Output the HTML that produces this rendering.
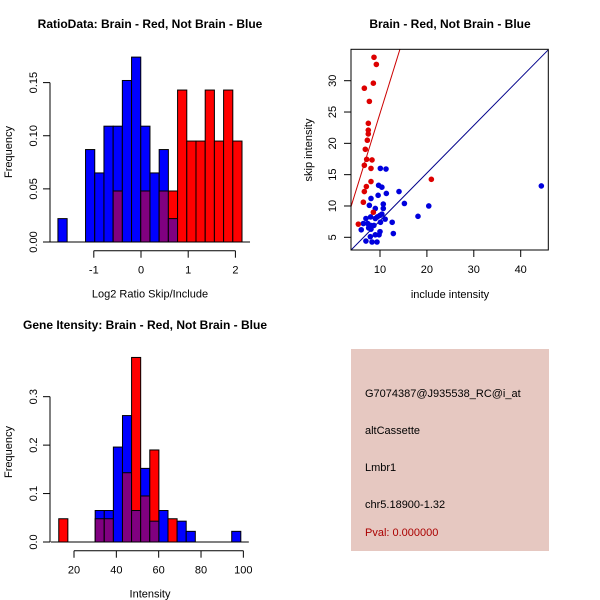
<!DOCTYPE html>
<html><head><meta charset="utf-8"><style>
body{margin:0;background:#fff;}
svg{display:block;font-family:"Liberation Sans",sans-serif;}
</style></head><body>
<svg id="c" width="600" height="600" viewBox="0 0 600 600"></svg>
<script>
// ---- Ratio histogram data ----
const ratioStart = -1.76, ratioStep = 0.195;
const ratioBlue = [0.022,0,0,0.087,0.065,0.109,0.109,0.152,0.174,0.109,0.065,0.087,0.022,0,0,0,0,0,0,0];
const ratioRed  = [0,0,0,0,0,0,0.048,0,0,0.048,0,0.048,0.048,0.143,0.095,0.095,0.143,0.095,0.143,0.095];
const ratioXTicks = [-1,0,1,2];
const ratioYTicks = ["0.00","0.05","0.10","0.15"];
// ---- Scatter data ----
const redX = [8.72,9.22,8.58,6.66,7.73,7.51,7.5,7.5,7.3,6.87,7.16,8.3,6.66,8.08,7.09,8.08,6.66,6.45,8.58,5.38,20.95];
const redY = [33.74,32.6,29.6,28.8,26.7,23.2,22.1,21.5,20.5,19.05,17.45,17.35,16.5,16.0,13.1,13.9,12.3,10.6,9.0,7.1,14.26];
const blueX = [44.4,10.07,11.28,9.7,10.4,9.6,11.35,14.05,8.08,7.73,10.7,15.2,20.4,9.0,10.7,18.1,10.4,10.0,9.43,9.0,8.0,7.0,11.1,10.1,12.6,6.45,7.37,8.0,8.7,7.58,8.08,6.0,10.0,12.84,9.0,9.8,7.94,7.0,8.3,9.36];
const blueY = [13.2,16.0,15.9,13.3,13.0,11.7,12.0,12.3,11.2,10.1,10.3,10.4,10.0,9.6,9.6,8.35,8.7,8.5,8.25,8.0,8.25,8.0,7.9,7.4,7.4,7.2,7.2,6.9,6.9,6.5,6.3,6.2,5.9,5.6,5.4,5.4,5.1,4.4,4.25,4.25];
const scatXTicks = [10,20,30,40];
const scatYTicks = [5,10,15,20,25,30];
const redLine = [0.68, 2.41];  // intercept, slope
const blueLine = [0.06, 0.76];
// ---- Intensity histogram data ----
const intStart = 12.8, intStep = 4.3;
const intBlue = [0,0,0,0,0.065,0.065,0.196,0.261,0.065,0.152,0.043,0.065,0,0.043,0.022,0,0,0,0,0.022];
const intRed  = [0.048,0,0,0,0.048,0.048,0,0.143,0.381,0.095,0.19,0,0.048,0,0,0,0,0,0,0];
const intXTicks = [20,40,60,80,100];
const intYTicks = ["0.0","0.1","0.2","0.3"];

const NS="http://www.w3.org/2000/svg";
const svg=document.getElementById('c');
function mk(tag,attrs,parent,text){const e=document.createElementNS(NS,tag);for(const k in attrs)e.setAttribute(k,attrs[k]);if(text!==undefined)e.textContent=text;(parent||svg).appendChild(e);return e;}

function hist(start,step,blue,red,xs,ys,yticks,xticks,title,titleX,titleY,xlabel,name){
  const g=mk('g',{});
  
  
  for(let k=0;k<blue.length;k++){
    const b=blue[k],r=red[k];
    const x0=xs(start+k*step),x1=xs(start+(k+1)*step);
    const drawBar=(v,col,nm)=>{if(v<=0)return;const el=mk('rect',{x:x0,y:ys(v),width:x1-x0,height:ys(0)-ys(v),fill:col,stroke:'#000','stroke-width':1},g);
      
      };
    if(b>=r){drawBar(b,'#0000ff','bar-blue');drawBar(r,'#800080','bar-overlap');}
    else{drawBar(r,'#ff0000','bar-red');drawBar(b,'#800080','bar-overlap');}
  }
  const yv=yticks.map(Number);
  const ya=mk('g',{},g);
  
  
  mk('line',{x1:50,x2:50,y1:ys(yv[0]),y2:ys(yv[yv.length-1]),stroke:'#000'},ya);
  yticks.forEach((t,i)=>{const y=ys(yv[i]);mk('line',{x1:43,x2:50,y1:y,y2:y,stroke:'#000'},ya);
    mk('text',{x:37,y:y,'font-size':11,'text-anchor':'middle',transform:`rotate(-90 37 ${y})`},ya,t);});
  const xa=mk('g',{},g);
  
  
  const ay=ys(0)+8.7;
  mk('line',{x1:xs(xticks[0]),x2:xs(xticks[xticks.length-1]),y1:ay,y2:ay,stroke:'#000'},xa);
  xticks.forEach(t=>{const x=xs(t);mk('line',{x1:x,x2:x,y1:ay,y2:ay+7,stroke:'#000'},xa);
    mk('text',{x:x,y:ay+23,'font-size':11,'text-anchor':'middle'},xa,String(t));});
  mk('line',{x1:xs(start)-8,x2:xs(start+blue.length*step)+8,y1:ys(0),y2:ys(0),stroke:'#000'},g);
  const t=mk('text',{x:titleX,y:titleY,'font-size':12,'font-weight':'bold','text-anchor':'middle'},g,title);
  
  
  const xl=mk('text',{x:150,y:ay+47,'font-size':11,'text-anchor':'middle'},g,xlabel);
  
  
  const yy=ys(0)-90;
  const yl=mk('text',{x:12,y:yy,'font-size':11,'text-anchor':'middle',transform:`rotate(-90 12 ${yy})`},g,'Frequency');
  
  
}
hist(ratioStart,ratioStep,ratioBlue,ratioRed,v=>141+v*47.2,v=>242-v*1062.6,ratioYTicks,ratioXTicks,
  'RatioData: Brain - Red, Not Brain - Blue',150,28,'Log2 Ratio Skip/Include','ratio-histogram');
hist(intStart,intStep,intBlue,intRed,v=>74+(v-20)*2.117,v=>542-v*484.4,intYTicks,intXTicks,
  'Gene Itensity: Brain - Red, Not Brain - Blue',145,329,'Intensity','intensity-histogram');

(function(){
  const g=mk('g',{});
  
  
  const L=351,R=548.3,T=49.3,B=250;
  const xs=v=>380+(v-10)*4.69, ys=v=>237.3-(v-5)*6.264;
  const x0=(L-380)/4.69+10,x1=(R-380)/4.69+10;
  mk('defs',{},g).innerHTML='<clipPath id="cp"><rect x="351" y="49.3" width="197.3" height="200.7"/></clipPath>';
  const lg=mk('g',{'clip-path':'url(#cp)'},g);
  const rl=mk('line',{x1:xs(x0),y1:ys(redLine[0]+redLine[1]*x0),x2:xs(x1),y2:ys(redLine[0]+redLine[1]*x1),stroke:'#cc0000'},lg);
  
  
  const bl=mk('line',{x1:xs(x0),y1:ys(blueLine[0]+blueLine[1]*x0),x2:xs(x1),y2:ys(blueLine[0]+blueLine[1]*x1),stroke:'#00008b'},lg);
  
  
  blueX.forEach((x,i)=>{const c=mk('circle',{cx:xs(x),cy:ys(blueY[i]),r:2.8,fill:'#0000dd'},g);
    
    });
  redX.forEach((x,i)=>{const c=mk('circle',{cx:xs(x),cy:ys(redY[i]),r:2.8,fill:'#dd0000'},g);
    
    });
  mk('rect',{x:L,y:T,width:R-L,height:B-T,fill:'none',stroke:'#000'},g);
  scatXTicks.forEach(t=>{const x=xs(t);mk('line',{x1:x,x2:x,y1:B,y2:B+7,stroke:'#000'},g);
    mk('text',{x:x,y:B+23,'font-size':11,'text-anchor':'middle'},g,String(t));});
  scatYTicks.forEach(t=>{const y=ys(t);mk('line',{x1:L-7,x2:L,y1:y,y2:y,stroke:'#000'},g);
    mk('text',{x:336,y:y,'font-size':11,'text-anchor':'middle',transform:`rotate(-90 336 ${y})`},g,String(t));});
  const t=mk('text',{x:450,y:28,'font-size':12,'font-weight':'bold','text-anchor':'middle'},g,'Brain - Red, Not Brain - Blue');
  
  
  const xl=mk('text',{x:450,y:298,'font-size':11,'text-anchor':'middle'},g,'include intensity');
  
  
  const yl=mk('text',{x:312,y:150,'font-size':11,'text-anchor':'middle',transform:'rotate(-90 312 150)'},g,'skip intensity');
  
  
})();
</script>
<svg style="position:absolute;left:0;top:0" width="600" height="600">
  <rect x="351" y="349" width="198" height="202" fill="#e6c8c1"/>
  <g font-family="Liberation Sans, sans-serif" font-size="11">
    <text x="365" y="397">G7074387@J935538_RC@i_at</text>
    <text x="365" y="434">altCassette</text>
    <text x="365" y="471">Lmbr1</text>
    <text x="365" y="508">chr5.18900-1.32</text>
    <text x="365" y="536" fill="#aa0000">Pval: 0.000000</text>
  </g>
</svg>
</body></html>
